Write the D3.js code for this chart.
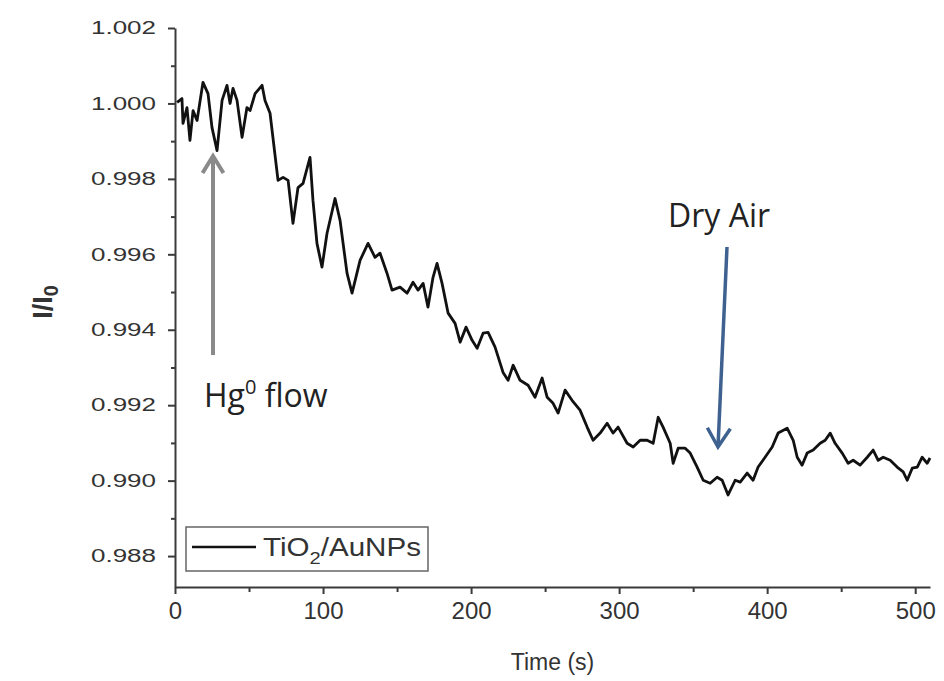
<!DOCTYPE html>
<html>
<head>
<meta charset="utf-8">
<script src="https://cdn.jsdelivr.net/npm/d3@7/dist/d3.min.js"></script>
<style>
  html, body { margin: 0; padding: 0; background: #ffffff; }
  svg { display: block; }
</style>
</head>
<body>
<svg id="chart" width="944" height="681"></svg>
<script>
// Normalised intensity I/I0 of the TiO2/AuNPs film versus time
const timeS = [
  1.4, 4.7, 5.4, 8.1, 10.1, 12.2, 14.9, 18.9, 22.3, 25.0, 28.4, 31.8, 35.1, 37.2, 39.2, 41.9,
  45.3, 48.6, 50.7, 54.1, 58.8, 60.8, 64.2, 69.6, 73.0, 76.4, 79.7, 83.1, 86.5, 91.2, 93.2, 95.9,
  99.3, 102.7, 108.1, 111.5, 116.2, 119.6, 125.0, 130.4, 135.1, 138.5, 143.2, 146.6, 152.0, 156.8,
  160.8, 164.2, 167.6, 170.9, 174.3, 177.0, 180.4, 184.5, 189.2, 192.6, 196.6, 200.7, 204.1, 208.1,
  211.5, 216.2, 221.6, 225.0, 228.4, 233.1, 238.5, 243.2, 248.0, 251.4, 255.4, 258.8, 263.5, 268.2,
  273.6, 278.4, 282.4, 287.2, 291.9, 295.9, 299.3, 305.4, 309.5, 314.2, 318.9, 323.0, 326.4, 329.7,
  334.5, 336.5, 339.9, 344.6, 348.0, 352.7, 356.8, 361.5, 366.2, 369.6, 373.6, 378.4, 381.8, 386.5,
  390.5, 393.9, 398.6, 403.4, 407.4, 413.5, 417.6, 420.3, 423.6, 427.0, 431.1, 435.8, 439.2, 442.6,
  445.9, 450.7, 454.7, 458.1, 462.8, 467.6, 471.6, 475.0, 478.4, 483.1, 487.8, 491.9, 494.6, 498.0,
  501.4, 504.7, 508.1, 510.0
];
const ratio = [
  1.00003, 1.00013, 0.99947, 0.99989, 0.99902, 0.99981, 0.99955, 1.00056, 1.00026, 0.99936, 0.99875,
  1.00008, 1.00048, 1.00000, 1.00040, 1.00008, 0.99910, 0.99989, 0.99981, 1.00026, 1.00048, 1.00008,
  0.99974, 0.99796, 0.99804, 0.99796, 0.99682, 0.99777, 0.99788, 0.99857, 0.99743, 0.99629, 0.99566,
  0.99656, 0.99748, 0.99690, 0.99550, 0.99497, 0.99584, 0.99629, 0.99592, 0.99603, 0.99550, 0.99505,
  0.99513, 0.99497, 0.99526, 0.99505, 0.99523, 0.99460, 0.99539, 0.99576, 0.99523, 0.99444, 0.99417,
  0.99367, 0.99407, 0.99372, 0.99351, 0.99391, 0.99393, 0.99354, 0.99287, 0.99266, 0.99306, 0.99266,
  0.99253, 0.99221, 0.99272, 0.99221, 0.99205, 0.99179, 0.99240, 0.99213, 0.99187, 0.99142, 0.99107,
  0.99126, 0.99152, 0.99126, 0.99142, 0.99099, 0.99089, 0.99107, 0.99107, 0.99099, 0.99168, 0.99142,
  0.99099, 0.99046, 0.99086, 0.99086, 0.99073, 0.99036, 0.99001, 0.98993, 0.99009, 0.99001, 0.98962,
  0.99001, 0.98996, 0.99020, 0.99001, 0.99036, 0.99062, 0.99089, 0.99126, 0.99139, 0.99107, 0.99062,
  0.99041, 0.99073, 0.99081, 0.99099, 0.99107, 0.99126, 0.99099, 0.99073, 0.99046, 0.99054, 0.99041,
  0.99062, 0.99081, 0.99054, 0.99062, 0.99054, 0.99036, 0.99023, 0.99001, 0.99033, 0.99036, 0.99062,
  0.99046, 0.99060
];

const xMajorTicks = [0, 100, 200, 300, 400, 500];
const xMinorTicks = [50, 150, 250, 350, 450];
const yMajorTicks = [0.988, 0.990, 0.992, 0.994, 0.996, 0.998, 1.000, 1.002];
const yMinorTicks = [0.989, 0.991, 0.993, 0.995, 0.997, 0.999, 1.001];

const xTitle = "Time (s)";

const svg = d3.select("#chart");
const axisColor = "#3a3a3a";
const labelFont = "'Liberation Sans', Arial, sans-serif";

const x = d3.scaleLinear().domain([0, 510]).range([175, 930]);
const y = d3.scaleLinear().domain([0.98718, 1.002]).range([587, 28]);

// x axis: majors with labels, minors unlabelled, all pointing outward
const xAxisG = svg.append("g").attr("transform", `translate(0,${y.range()[0]})`)
  .call(d3.axisBottom(x).tickValues(xMajorTicks).tickSize(7).tickSizeOuter(0).tickPadding(8)
    .tickFormat(d3.format("d")));
svg.append("g").attr("transform", `translate(0,${y.range()[0]})`)
  .call(d3.axisBottom(x).tickValues(xMinorTicks).tickSize(5).tickSizeOuter(0).tickFormat(""))
  .select(".domain").remove();

const yAxisG = svg.append("g").attr("transform", `translate(${x.range()[0]},0)`)
  .call(d3.axisLeft(y).tickValues(yMajorTicks).tickSize(7).tickSizeOuter(0).tickPadding(12)
    .tickFormat(d3.format(".3f")));
svg.append("g").attr("transform", `translate(${x.range()[0]},0)`)
  .call(d3.axisLeft(y).tickValues(yMinorTicks).tickSize(4).tickSizeOuter(0).tickFormat(""))
  .select(".domain").remove();

svg.selectAll(".domain").attr("stroke", axisColor).attr("stroke-width", 2);
svg.selectAll(".tick line").attr("stroke", axisColor).attr("stroke-width", 2);

xAxisG.selectAll(".tick text")
  .attr("font-family", labelFont).attr("font-size", 24).attr("fill", "#333");
yAxisG.selectAll(".tick text")
  .attr("font-family", labelFont).attr("font-size", 18).attr("fill", "#333")
  .attr("textLength", 65).attr("lengthAdjust", "spacingAndGlyphs");

// axis titles
svg.append("text")
  .attr("x", (x.range()[0] + x.range()[1]) / 2).attr("y", 670)
  .attr("text-anchor", "middle")
  .attr("font-family", labelFont).attr("font-size", 23).attr("fill", "#333")
  .text(xTitle);

const yTitle = svg.append("text")
  .attr("transform", "translate(52,302) rotate(-90)")
  .attr("text-anchor", "middle")
  .attr("font-family", labelFont).attr("font-size", 27).attr("font-weight", "bold").attr("fill", "#333");
yTitle.append("tspan").text("I/I");
yTitle.append("tspan").attr("dy", 6).attr("font-size", 20).text("0");

// data line
const line = d3.line().x((d, i) => x(timeS[i])).y(d => y(d));
svg.append("path")
  .datum(ratio)
  .attr("d", line)
  .attr("fill", "none")
  .attr("stroke", "#111")
  .attr("stroke-width", 2.8)
  .attr("stroke-linejoin", "round");

// legend
const legend = svg.append("g");
legend.append("rect")
  .attr("x", 186).attr("y", 527).attr("width", 242).attr("height", 44)
  .attr("fill", "#fff").attr("stroke", "#666").attr("stroke-width", 1.5);
legend.append("line")
  .attr("x1", 192).attr("x2", 256).attr("y1", 547).attr("y2", 547)
  .attr("stroke", "#111").attr("stroke-width", 2.6);
const legText = legend.append("text")
  .attr("x", 263).attr("y", 556)
  .attr("font-family", labelFont).attr("font-size", 25).attr("fill", "#333")
  .attr("textLength", 158).attr("lengthAdjust", "spacingAndGlyphs");
legText.append("tspan").text("TiO");
legText.append("tspan").attr("dy", 8).attr("font-size", 17).text("2");
legText.append("tspan").attr("dy", -8).text("/AuNPs");

// annotations: gas switching arrows
const annoFont = "'Open Sans', 'Noto Sans', sans-serif";
function arrow(x1, y1, x2, y2, color, width, head) {
  svg.append("line").attr("x1", x1).attr("y1", y1).attr("x2", x2).attr("y2", y2)
    .attr("stroke", color).attr("stroke-width", width);
  const ang = Math.atan2(y2 - y1, x2 - x1);
  const pts = [
    [x2 - head * Math.cos(ang - 0.55), y2 - head * Math.sin(ang - 0.55)],
    [x2, y2],
    [x2 - head * Math.cos(ang + 0.55), y2 - head * Math.sin(ang + 0.55)]
  ];
  svg.append("polyline").attr("points", pts.map(p => p.join(",")).join(" "))
    .attr("fill", "none").attr("stroke", color).attr("stroke-width", width)
    .attr("stroke-linejoin", "miter");
}
arrow(213, 355, 213, 156, "#8a8a8a", 4, 20);
arrow(727, 247, 718, 447, "#3f6190", 3.5, 22);

const hg = svg.append("text").attr("x", 204).attr("y", 407)
  .attr("font-family", annoFont).attr("font-size", 32).attr("fill", "#222");
hg.append("tspan").text("Hg");
hg.append("tspan").attr("dy", -13).attr("font-size", 20).text("0");
hg.append("tspan").attr("dy", 13).text(" flow");

svg.append("text").attr("x", 668).attr("y", 227)
  .attr("font-family", annoFont).attr("font-size", 32).attr("fill", "#222")
  .text("Dry Air");
</script>
</body>
</html>
